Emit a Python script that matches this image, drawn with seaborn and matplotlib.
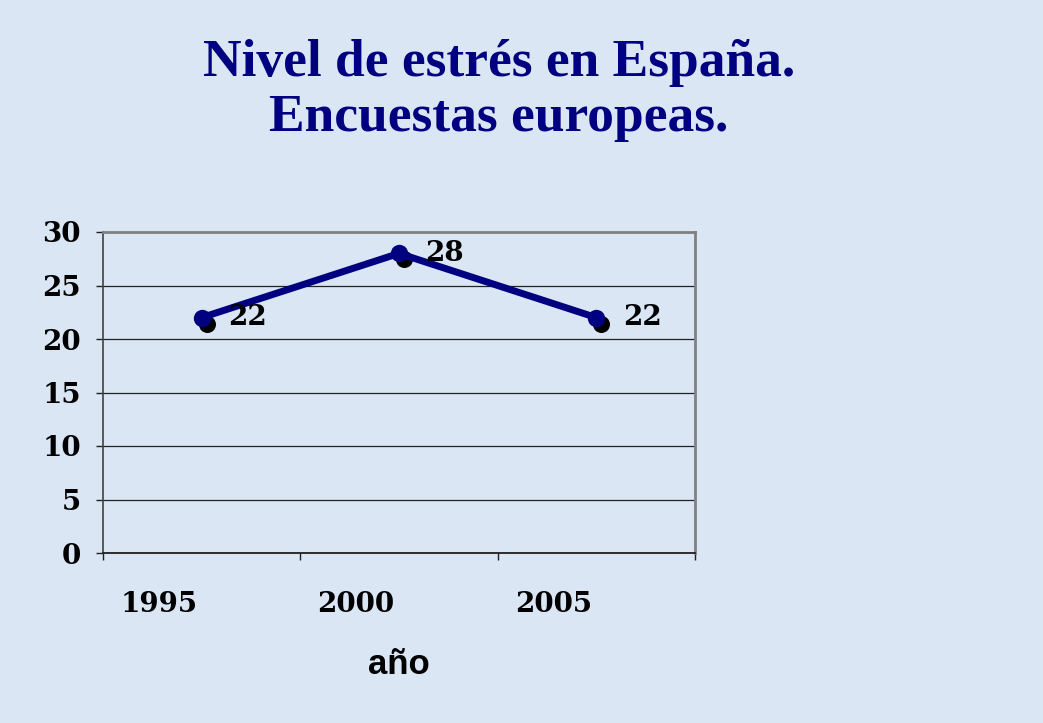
import numpy as np
import pandas as pd
import seaborn as sns
import matplotlib
matplotlib.use("Agg")
import matplotlib.pyplot as plt
from matplotlib.transforms import ScaledTranslation

# ---- data ----
years = ["1995", "2000", "2005"]
stress = [22, 28, 22]
yticks = [0, 5, 10, 15, 20, 25, 30]
title_lines = ["Nivel de estrés en España.", "Encuestas europeas."]
xlabel_text = "año"

sns.set_theme(style="white")
plt.rcParams['font.family'] = ['DejaVu Serif']
for k in ["text.color", "axes.labelcolor", "xtick.color", "ytick.color"]:
    plt.rcParams[k] = "black"

BG = "#dae6f4"
NAVY = "#000080"
W, H = 1043, 723
fig = plt.figure(figsize=(W / 100, H / 100), dpi=100, facecolor=BG)
ax = fig.add_axes([103 / W, 1 - 553 / H, (695 - 103) / W, (553 - 232) / H])
ax.set_facecolor('none')

df = pd.DataFrame({"year": years, "stress": stress})

# shadow dots (offset down-right)
shadow = ax.transData + ScaledTranslation(5 / 100, -6 / 100, fig.dpi_scale_trans)
sns.scatterplot(data=df, x="year", y="stress", ax=ax, color="black", s=150,
                linewidth=0, transform=shadow, zorder=3, legend=False)
sns.lineplot(data=df, x="year", y="stress", ax=ax, color=NAVY, lw=5,
             marker="o", markersize=12.5, markeredgewidth=0, zorder=4, sort=False)

# data labels
for i, v in enumerate(stress):
    ax.annotate(str(v), (i, v), xytext=(19, 0), textcoords="offset points",
                ha="left", va="center", fontsize=20, fontweight="bold",
                family="DejaVu Serif", color="black", zorder=5)

# axes
ax.set_xlim(-0.5, len(years) - 0.5)
ax.set_ylim(0, 30)
ax.set_yticks(yticks)
ax.set_yticklabels([str(t) for t in yticks], fontsize=20, fontweight="bold", color="black")
ax.set_xticks(np.arange(-0.5, len(years), 1.0))
ax.set_xticklabels([])
ax.set_xticks(np.arange(len(years)), minor=True)
ax.set_xticklabels(years, minor=True, fontsize=20, fontweight="bold", color="black")
ax.tick_params(axis="x", which="major", direction="out", length=5, width=1, color="#202020", bottom=True)
ax.tick_params(axis="x", which="minor", length=0, pad=27, bottom=True)
ax.tick_params(axis="y", direction="out", length=5, width=1, color="#202020", pad=11, left=True)
for lab in ax.get_xticklabels(minor=True):
    lab.set_transform(lab.get_transform() + ScaledTranslation(-43 / 100, 0, fig.dpi_scale_trans))

ax.yaxis.grid(True, color="#222222", lw=0.9)
ax.xaxis.grid(False)
ax.set_axisbelow(True)
for s in ["top", "right"]:
    ax.spines[s].set_color("#808080")
    ax.spines[s].set_linewidth(2)
ax.spines["left"].set_color("#404040")
ax.spines["left"].set_linewidth(1.2)
ax.spines["bottom"].set_color("#202020")
ax.spines["bottom"].set_linewidth(1.3)

ax.set_ylabel("")
ax.set_xlabel(xlabel_text, fontsize=25, fontweight="bold", family="Liberation Sans",
              va="center", color="black")
ax.xaxis.set_label_coords(0.5, (553 - 665) / (553 - 232))

# title
fig.text(499 / W, 1 - 76 / H, title_lines[0], ha="center", va="baseline",
         fontsize=38.5, fontweight="bold", family="Liberation Serif", color=NAVY)
fig.text(499 / W, 1 - 131 / H, title_lines[1], ha="center", va="baseline",
         fontsize=38.5, fontweight="bold", family="Liberation Serif", color=NAVY)

fig.savefig("out.png", dpi=100, facecolor=BG)
